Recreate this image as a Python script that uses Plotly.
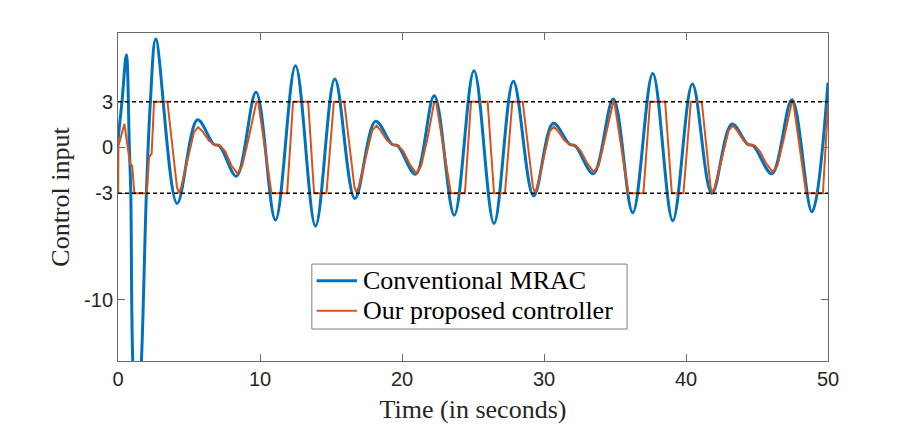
import plotly.graph_objects as go

# blue: conventional MRAC (peaks, troughs and shoulders)
t_mrac = [0.0, 0.28, 0.59, 0.8, 0.9, 1.04, 1.35, 1.65, 2.0, 2.28, 2.66,
          4.16, 5.6, 6.75, 7.15, 8.34, 9.72, 11.09, 12.5, 13.91, 15.27,
          16.68, 18.14, 19.3, 19.7, 20.96, 22.27, 23.68, 25.07, 26.48,
          27.84, 29.27, 30.65, 31.8, 32.2, 33.48, 34.88, 36.25, 37.66,
          39.07, 40.45, 41.82, 43.23, 44.35, 44.75, 46.05, 47.46, 48.87, 50.0]
u_mrac = [0.5, 3.0, 6.07, 0.0, -3.0, -14.0, -19.0, -14.0, -3.0, 3.0, 7.1,
          -3.67, 1.81, 0.2, 0.1, -1.89, 3.61, -4.76, 5.35, -5.15, 4.48,
          -3.35, 1.72, 0.2, 0.1, -1.76, 3.39, -4.44, 5.02, -4.98,
          4.33, -3.18, 1.59, 0.2, 0.1, -1.72, 3.17, -4.28, 4.85,
          -4.8, 4.15, -3.02, 1.54, 0.2, 0.1, -1.72, 3.13, -4.22, 4.25]

# orange: proposed (saturated) controller
t_prop = [0.0, 0.01, 0.03, 0.45, 0.85, 1.0, 1.15, 2.02, 2.19, 2.37, 2.54,
          3.48, 4.15, 4.3, 4.45, 5.35, 5.64, 5.95, 6.4, 6.8, 7.2, 7.55,
          8.0, 8.41, 8.75, 9.2, 9.6, 9.75, 9.87, 10.81, 11.91, 12.33,
          13.39, 13.81, 14.68, 15.2, 15.93, 16.65, 16.8, 16.95, 17.9,
          18.21, 18.5, 18.95, 19.35, 19.75, 20.1, 20.55, 21.0, 21.35,
          21.8, 22.15, 22.27, 22.4, 23.44, 24.43, 24.86, 26.03, 26.48,
          27.25, 27.77, 28.5, 29.22, 29.37, 29.52, 30.4, 30.7, 31.0,
          31.45, 31.85, 32.25, 32.6, 33.05, 33.5, 33.85, 34.3, 34.75,
          34.88, 34.95, 35.94, 37.0, 37.47, 38.53, 39.0, 39.82, 40.34,
          41.11, 41.73, 41.88, 42.03, 43.0, 43.3, 43.6, 44.05, 44.45,
          44.85, 45.2, 45.65, 46.1, 46.45, 46.9, 47.35, 47.46, 47.55,
          48.46, 49.64, 50.0]
u_prop = [0.6, -3.0, 0.1, 1.55, -1.07, -1.2, -3.0, -3.0, -0.63, -0.41, 3.0,
          3.0, -2.6, -3.0, -2.6, 1.0, 1.33, 1.05, 0.45, 0.17, 0.12, -0.25,
          -1.2, -1.72, -1.2, 0.6, 2.5, 3.0, 3.0, -3.0, -3.0, 3.0,
          3.0, -3.0, -3.0, 3.0, 3.0, -2.6, -2.95, -2.6, 1.1,
          1.43, 1.1, 0.45, 0.17, 0.12, -0.25, -1.1, -1.7, -1.2,
          0.6, 2.6, 3.0, 3.0, -3.0, -3.0, 3.0, 3.0, -3.0,
          -3.0, 3.0, 3.0, -2.6, -3.0, -2.6, 1.05, 1.37, 1.05,
          0.45, 0.17, 0.12, -0.25, -1.05, -1.62, -1.15, 0.6, 2.6,
          3.0, 3.0, -3.0, -3.0, 3.0, 3.0, -3.0, -3.0, 3.0,
          3.0, -2.6, -3.0, -2.6, 1.1, 1.43, 1.1, 0.45, 0.17,
          0.12, -0.25, -1.05, -1.62, -1.15, 0.6, 2.6, 3.0, 3.0,
          -3.0, -3.0, 2.74]

limits = [3, -3]
x_ticks = [0, 10, 20, 30, 40, 50]
y_ticks = [-10, -3, 0, 3]
y_ticktext = ["-10", "-3", "0", "3"]
names = ["Conventional MRAC", "Our proposed controller"]
colors = ["#0072BD", "#D95319"]
widths = [3, 2]

serif = "Liberation Serif"
sans = "Liberation Sans"

fig = go.Figure()
fig.add_trace(go.Scatter(x=t_mrac, y=u_mrac, mode="lines", name=names[0], showlegend=False,
                         line=dict(color=colors[0], width=widths[0], shape="spline", smoothing=1)))
fig.add_trace(go.Scatter(x=t_prop, y=u_prop, mode="lines", name=names[1], showlegend=False,
                         line=dict(color=colors[1], width=widths[1])))

for lim in limits:
    fig.add_shape(type="line", xref="x", yref="y", x0=0, x1=50, y0=lim, y1=lim,
                  line=dict(color="black", width=1.5, dash="4px,3px"))

# legend drawn by hand so the box matches the MATLAB one (tighter rows)
fig.add_shape(type="rect", xref="paper", yref="paper", x0=0.273, x1=0.717, y0=0.0975, y1=0.2955,
              line=dict(color="#7f7f7f", width=1), fillcolor="white", layer="above")
row_y = [0.2446, 0.1532]
for i in range(2):
    fig.add_shape(type="line", xref="paper", yref="paper", x0=0.2797, x1=0.3365,
                  y0=row_y[i], y1=row_y[i], line=dict(color=colors[i], width=widths[i]))
    fig.add_annotation(x=0.3425, y=row_y[i], xref="paper", yref="paper", text=names[i],
                       showarrow=False, xanchor="left", yanchor="middle",
                       font=dict(family=serif, size=26, color="black"))

axis_common = dict(showgrid=False, zeroline=False, showline=True, linecolor="#6b6b6b",
                   linewidth=1, mirror="ticks", ticks="inside", ticklen=7,
                   tickcolor="#6b6b6b", tickfont=dict(family=sans, size=20, color="#262626"))

fig.update_xaxes(range=[0, 50], tickvals=x_ticks,
                 title=dict(text="Time (in seconds)", standoff=10,
                            font=dict(family=serif, size=26, color="#262626")),
                 **axis_common)
fig.update_yaxes(range=[-14, 7.5], tickvals=y_ticks, ticktext=y_ticktext,
                 title=dict(text="Control input", standoff=6,
                            font=dict(family=serif, size=26, color="#262626")),
                 **axis_common)

# page is drawn with an 8px offset, so margins are shifted to compensate
fig.update_layout(
    width=916, height=438,
    margin=dict(l=110, r=96, t=25, b=85),
    plot_bgcolor="white", paper_bgcolor="white",
)

fig.write_html("out.html")
